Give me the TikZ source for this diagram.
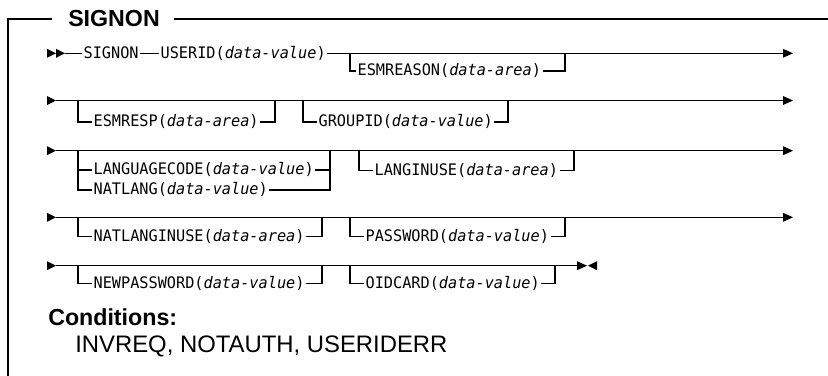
\documentclass[tikz,border=0pt]{standalone}
\usepackage{fontspec}
\setmainfont{Liberation Sans}
\newfontfamily\synfont{DejaVu Sans Mono}[FakeStretch=0.96]
\usetikzlibrary{arrows.meta}
\tikzset{
  syn/.style={font=\synfont\fontsize{11.9pt}{14pt}\selectfont, anchor=west,
    inner xsep=1pt, inner ysep=0pt, text height=0.73em, text depth=0pt},
  rail/.style={line width=0.85pt},
  framel/.style={line width=1.2pt},
  endtip/.style={-{Triangle[length=7.5pt,width=6.5pt]}},
  head/.style={font=\bfseries\fontsize{17.4pt}{20pt}\selectfont, anchor=west,
    inner sep=0pt, text height=0.716em, text depth=0pt},
  plain/.style={font=\fontsize{17.9pt}{20pt}\selectfont, anchor=west,
    inner sep=0pt, text height=0.716em, text depth=0pt},
}
\begin{document}
\begin{tikzpicture}[x=0.75pt,y=-0.75pt]
\useasboundingbox (0,0) rectangle (828,375);
% frame and title
\node[head] (title) at (68,21.3) {SIGNON};
\coordinate (fa) at (52,19);
\coordinate (fc) at (8,19);
\coordinate (fd) at (8,376);
\coordinate (fe) at (174,19);
\coordinate (ff) at (828,19);
\draw[framel] (fa) -- (fc) -- (fd);
\draw[framel] (fe) -- (ff);

% ---------- Row 1 ----------
\fill (47,48.8) -- (56,53.3) -- (47,57.8) -- cycle;
\fill (56,48.8) -- (65,53.3) -- (56,57.8) -- cycle;
\coordinate (r1a) at (65,53.3);
\node[syn] (signon) at (82,53.3) {SIGNON};
\node[syn] (userid) at (159,53.3) {USERID(\textit{data-value})};
\coordinate (r1e) at (793,53.3);
\coordinate (b1l) at (350,53.3);
\coordinate (b1r) at (565,53.3);
\node[syn] (esmreason) at (356,71) {ESMREASON(\textit{data-area})};
\draw[rail] (r1a) -- (signon.west);
\draw[rail] (signon.east) -- (userid.west);
\draw[rail,endtip] (userid.east) -- (r1e);
\draw[rail] (b1l) |- (esmreason.west);
\draw[rail] (esmreason.east) -| (b1r);

% ---------- Row 2 ----------
\fill (47,96) -- (56,100.5) -- (47,105) -- cycle;
\coordinate (r2a) at (56,100.5);
\coordinate (r2e) at (793,100.5);
\draw[rail,endtip] (r2a) -- (r2e);
\coordinate (b2al) at (78,100.5);
\coordinate (b2ar) at (275,100.5);
\node[syn] (esmresp) at (92,122) {ESMRESP(\textit{data-area})};
\draw[rail] (b2al) |- (esmresp.west);
\draw[rail] (esmresp.east) -| (b2ar);
\coordinate (b2bl) at (303,100.5);
\coordinate (b2br) at (508,100.5);
\node[syn] (groupid) at (317,122) {GROUPID(\textit{data-value})};
\draw[rail] (b2bl) |- (groupid.west);
\draw[rail] (groupid.east) -| (b2br);

% ---------- Row 3 ----------
\fill (47,146.2) -- (56,150.7) -- (47,155.2) -- cycle;
\coordinate (r3a) at (56,150.7);
\coordinate (r3e) at (793,150.7);
\draw[rail,endtip] (r3a) -- (r3e);
\coordinate (b3al) at (78,150.7);
\coordinate (b3ar) at (330,150.7);
\node[syn] (langcode) at (92,170) {LANGUAGECODE(\textit{data-value})};
\node[syn] (natlang) at (92,190) {NATLANG(\textit{data-value})};
\draw[rail] (b3al) |- (langcode.west);
\draw[rail] (b3al) |- (natlang.west);
\draw[rail] (langcode.east) -| (b3ar);
\draw[rail] (natlang.east) -| (b3ar);
\coordinate (b3bl) at (359,150.7);
\coordinate (b3br) at (574,150.7);
\node[syn] (langinuse) at (373,170.5) {LANGINUSE(\textit{data-area})};
\draw[rail] (b3bl) |- (langinuse.west);
\draw[rail] (langinuse.east) -| (b3br);

% ---------- Row 4 ----------
\fill (47,212.8) -- (56,217.3) -- (47,221.8) -- cycle;
\coordinate (r4a) at (56,217.3);
\coordinate (r4e) at (793,217.3);
\draw[rail,endtip] (r4a) -- (r4e);
\coordinate (b4al) at (78,217.3);
\coordinate (b4ar) at (322,217.3);
\node[syn] (natlanginuse) at (92,236.5) {NATLANGINUSE(\textit{data-area})};
\draw[rail] (b4al) |- (natlanginuse.west);
\draw[rail] (natlanginuse.east) -| (b4ar);
\coordinate (b4bl) at (350,217.3);
\coordinate (b4br) at (565,217.3);
\node[syn] (password) at (364,236.5) {PASSWORD(\textit{data-value})};
\draw[rail] (b4bl) |- (password.west);
\draw[rail] (password.east) -| (b4br);

% ---------- Row 5 ----------
\fill (47,261.2) -- (56,265.7) -- (47,270.2) -- cycle;
\coordinate (r5a) at (56,265.7);
\coordinate (r5e) at (587,265.7);
\draw[rail,endtip] (r5a) -- (r5e);
\fill (597,261.2) -- (588,265.7) -- (597,270.2) -- cycle;
\coordinate (b5al) at (78,265.7);
\coordinate (b5ar) at (322,265.7);
\node[syn] (newpassword) at (92,283.5) {NEWPASSWORD(\textit{data-value})};
\draw[rail] (b5al) |- (newpassword.west);
\draw[rail] (newpassword.east) -| (b5ar);
\coordinate (b5bl) at (350,265.7);
\coordinate (b5br) at (555,265.7);
\node[syn] (oidcard) at (364,283.5) {OIDCARD(\textit{data-value})};
\draw[rail] (b5bl) |- (oidcard.west);
\draw[rail] (oidcard.east) -| (b5br);

% ---------- Conditions ----------
\node[head] (cond) at (48,320.5) {Conditions:};
\node[plain] (condlist) at (75,347.5) {INVREQ, NOTAUTH, USERIDERR};
\end{tikzpicture}
\end{document}
